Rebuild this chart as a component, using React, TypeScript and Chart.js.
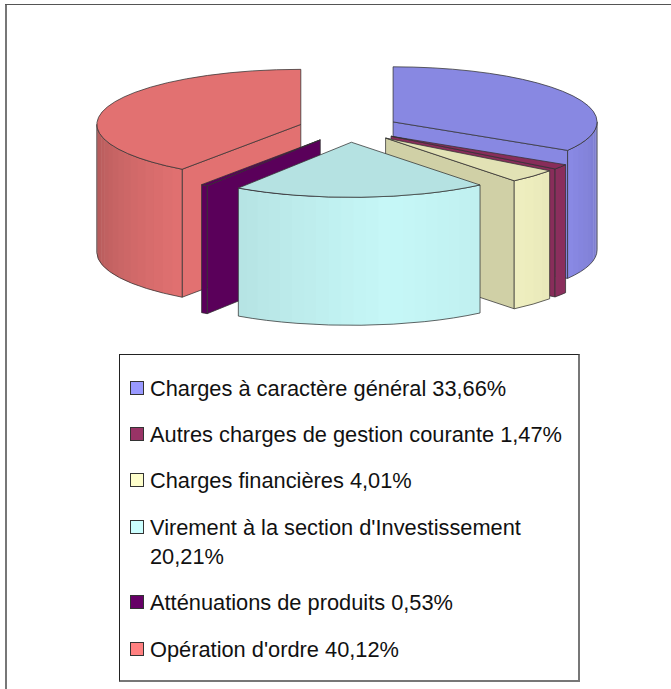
import React, { useEffect, useRef } from "react";
import { Chart, registerables } from "chart.js";

Chart.register(...registerables);

const categories = [
  "Charges à caractère général",
  "Autres charges de gestion courante",
  "Charges financières",
  "Virement à la section d'Investissement",
  "Atténuations de produits",
  "Opération d'ordre",
];
const values = [33.66, 1.47, 4.01, 20.21, 0.53, 40.12];
const valueLabels = ["33,66%", "1,47%", "4,01%", "20,21%", "0,53%", "40,12%"];
const baseColors = [
  [153, 153, 255],
  [153, 51, 102],
  [255, 255, 204],
  [204, 255, 255],
  [102, 0, 102],
  [255, 128, 128],
];
// Brightness of each slice's flat radial wall
const radialShade = [0.886, 0.886, 0.816, 0.886, 0.886, 0.886];
const TOP_SHADE = 0.886;
// Brightness of the curved wall: [degrees clockwise from top, factor]
const wallShade = [
  [90, 0.8],
  [122, 0.9],
  [141, 0.94],
  [170, 0.97],
  [214, 0.89],
  [240, 0.8],
  [270, 0.69],
];
const legendRowTops = [374, 420, 466, 513, 588, 635];

const RADIUS = 204;
const TILT = 0.27;
const DEPTH = 128;
const EXPLODE = 50.6;
const CENTER_Y = 128.6;
const EDGE = "rgba(50,50,50,0.75)";

const rgb = (c: number[], f = 1) =>
  `rgb(${Math.round(c[0] * f)},${Math.round(c[1] * f)},${Math.round(c[2] * f)})`;

function shadeAt(deg: number) {
  for (let i = 1; i < wallShade.length; i++) {
    const [a0, s0] = wallShade[i - 1];
    const [a1, s1] = wallShade[i];
    if (deg <= a1) return s0 + ((s1 - s0) * (deg - a0)) / (a1 - a0);
  }
  return wallShade[wallShade.length - 1][1];
}

const pie3d = {
  id: "pie3d",
  beforeDatasetsDraw(chart: any) {
    const ctx: CanvasRenderingContext2D = chart.ctx;
    const arcs = chart.getDatasetMeta(0).data as any[];
    const project = (y: number, cy: number) => CENTER_Y + (y - cy) * TILT;
    const slices = arcs.map((arc, index) => {
      const mid = (arc.startAngle + arc.endAngle) / 2;
      const dx = Math.cos(mid) * EXPLODE;
      const dy = Math.sin(mid) * EXPLODE;
      return {
        arc,
        index,
        dx,
        dy,
        ox: arc.x + dx,
        oy: project(arc.y + dy, arc.y),
      };
    });
    slices.sort((a, b) => a.oy - b.oy);
    ctx.lineWidth = 1;
    ctx.lineJoin = "round";

    for (const s of slices) {
      const { arc, index, ox, oy } = s;
      const R = arc.outerRadius;
      const Ry = R * TILT;
      const a0 = arc.startAngle;
      const a1 = arc.endAngle;
      const color = baseColors[index];
      const px = (a: number) => ox + R * Math.cos(a);
      const py = (a: number) => oy + Ry * Math.sin(a);

      // flat radial walls that face the viewer
      const radial = (a: number) => {
        ctx.beginPath();
        ctx.moveTo(ox, oy);
        ctx.lineTo(px(a), py(a));
        ctx.lineTo(px(a), py(a) + DEPTH);
        ctx.lineTo(ox, oy + DEPTH);
        ctx.closePath();
        ctx.fillStyle = rgb(color, radialShade[index]);
        ctx.fill();
        ctx.strokeStyle = EDGE;
        ctx.stroke();
      };
      if (Math.sin(a0 + Math.PI / 2) < 0) radial(a0);
      if (Math.sin(a1 + Math.PI / 2) > 0) radial(a1);

      // curved outer wall, in shaded vertical bands
      const from = Math.max(a0, 0);
      const to = Math.min(a1, Math.PI);
      if (to > from) {
        const step = (3.5 * Math.PI) / 180;
        for (let a = from; a < to; a += step) {
          const b = Math.min(a + step, to);
          const e = Math.min(b + 0.01, to);
          ctx.beginPath();
          ctx.ellipse(ox, oy, R, Ry, 0, a, e);
          ctx.ellipse(ox, oy + DEPTH, R, Ry, 0, e, a, true);
          ctx.closePath();
          const deg = (((a + b) / 2 + Math.PI / 2) * 180) / Math.PI;
          ctx.fillStyle = rgb(color, shadeAt(deg));
          ctx.fill();
        }
        ctx.beginPath();
        ctx.ellipse(ox, oy, R, Ry, 0, from, to);
        ctx.lineTo(px(to), py(to) + DEPTH);
        ctx.ellipse(ox, oy + DEPTH, R, Ry, 0, to, from, true);
        ctx.closePath();
        ctx.strokeStyle = EDGE;
        ctx.stroke();
      }

      // top face: the library's own arc, squashed and shifted
      ctx.save();
      ctx.translate(0, CENTER_Y - arc.y * TILT);
      ctx.scale(1, TILT);
      ctx.translate(s.dx, s.dy);
      arc.draw(ctx);
      ctx.restore();

      ctx.beginPath();
      ctx.moveTo(ox, oy);
      ctx.ellipse(ox, oy, R, Ry, 0, a0, a1);
      ctx.closePath();
      ctx.strokeStyle = EDGE;
      ctx.stroke();
    }
    return false;
  },
};

export default function App() {
  const ref = useRef<HTMLCanvasElement>(null);
  useEffect(() => {
    const chart = new Chart(ref.current!, {
      type: "pie",
      data: {
        labels: categories,
        datasets: [
          {
            data: values,
            backgroundColor: baseColors.map((c) => rgb(c, TOP_SHADE)),
            borderWidth: 0,
          },
        ],
      },
      options: {
        responsive: false,
        animation: false,
        events: [],
        radius: RADIUS,
        layout: { padding: { left: 27 } },
        plugins: { legend: { display: false }, tooltip: { enabled: false } },
      },
      plugins: [pie3d],
    } as any);
    return () => chart.destroy();
  }, []);

  return (
    <div style={{ position: "absolute", left: 0, top: 0, width: 671, height: 689, overflow: "hidden", background: "#fff", filter: "blur(0.3px)" }}>
      <div style={{ position: "absolute", left: 5, top: 4, width: 2, height: 685, background: "#777" }} />
      <div style={{ position: "absolute", left: 5, top: 4, width: 666, height: 1, background: "#555" }} />
      <canvas ref={ref} width={671} height={689} style={{ position: "absolute", left: 0, top: 0 }} />
      <div
        style={{
          position: "absolute",
          left: 119,
          top: 354,
          width: 458,
          height: 325,
          borderLeft: "1px solid #222",
          borderTop: "1px solid #222",
          borderRight: "2px solid #777",
          borderBottom: "2px solid #777",
          background: "#fff",
        }}
      />
      {categories.map((name, i) => (
        <React.Fragment key={name}>
          <div
            style={{
              position: "absolute",
              left: 130,
              top: legendRowTops[i] + 7,
              width: 12,
              height: 12,
              background: rgb(baseColors[i]),
              border: "1px solid #333",
            }}
          />
          <div
            style={{
              position: "absolute",
              left: 150,
              top: legendRowTops[i],
              width: 425,
              font: "21.8px/29px 'Liberation Sans', Arial, sans-serif",
              color: "#111",
            }}
          >
            {name} {valueLabels[i]}
          </div>
        </React.Fragment>
      ))}
    </div>
  );
}
